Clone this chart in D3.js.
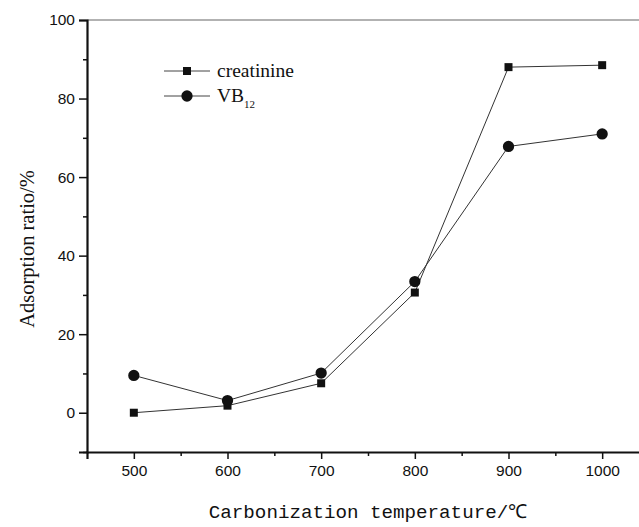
<!DOCTYPE html>
<html>
<head>
<meta charset="utf-8">
<script src="https://cdn.jsdelivr.net/npm/d3@7"></script>
<style>
  body { margin: 0; background: #fff; }
</style>
</head>
<body>
<div id="chart"></div>
<script>
// carbonization temperatures (x) and adsorption ratios (%)
var temps = [500, 600, 700, 800, 900, 1000];
var creatinine = [0, 1.8, 7.5, 30.6, 88.0, 88.5];
var vb12 = [9.5, 3.1, 10.1, 33.4, 67.8, 71.0];
var xTicks = [500, 600, 700, 800, 900, 1000];
var yTicks = [0, 20, 40, 60, 80, 100];

var w = 639, h = 527;
var margin = {top: 20, left: 87, right: -10, bottom: 75};

var svg = d3.select("#chart").append("svg")
  .attr("width", w)
  .attr("height", h);

var x = d3.scaleLinear().domain([450, 1050]).range([margin.left, w - margin.right]);
var y = d3.scaleLinear().domain([-10, 100]).range([h - margin.bottom, margin.top]);

var ink = "#111";

//top frame line
svg.append("line")
  .attr("x1", x(450)).attr("x2", w)
  .attr("y1", y(100)).attr("y2", y(100))
  .attr("stroke", "#666").attr("stroke-width", 1.2);

//bottom axis
svg.append("g")
  .attr("transform", "translate(0," + y(-10) + ")")
  .call(d3.axisBottom(x).tickValues(xTicks).tickSize(7).tickPadding(6).tickFormat(d3.format("d")));

svg.append("g")
  .attr("transform", "translate(0," + y(-10) + ")")
  .call(d3.axisBottom(x).tickValues([550, 650, 750, 850, 950]).tickSize(4).tickFormat(""))
  .select(".domain").remove();

//left axis
svg.append("g")
  .attr("transform", "translate(" + x(450) + ",0)")
  .call(d3.axisLeft(y).tickValues(yTicks).tickSize(8).tickPadding(4));

svg.append("g")
  .attr("transform", "translate(" + x(450) + ",0)")
  .call(d3.axisLeft(y).tickValues([-10, 10, 30, 50, 70, 90]).tickSize(4).tickFormat(""))
  .select(".domain").remove();

svg.selectAll(".domain").attr("stroke", ink).attr("stroke-width", 2.2);
svg.selectAll(".tick line").attr("stroke", ink).attr("stroke-width", 1.5);
svg.selectAll(".tick text")
  .attr("font-family", "Liberation Sans, Arial, sans-serif")
  .attr("font-size", 15.5)
  .attr("fill", ink);

//series lines
var line = d3.line()
  .x(function(d) { return x(d[0]); })
  .y(function(d) { return y(d[1]); });

var series = [
  {name: "creatinine", values: creatinine, symbol: "square"},
  {name: "VB12", values: vb12, symbol: "circle"}
];

function marker(s) {
  return s.symbol == "square" ? d3.symbol(d3.symbolSquare, 64)() : d3.symbol(d3.symbolCircle, 100)();
}

series.forEach(function(s) {
  var pts = temps.map(function(t, i) { return [t, s.values[i]]; });
  svg.append("path")
    .attr("d", line(pts))
    .attr("fill", "none")
    .attr("stroke", "#333")
    .attr("stroke-width", 1);

  svg.append("g").selectAll("path")
    .data(pts)
    .enter()
    .append("path")
    .attr("transform", function(d) { return "translate(" + x(d[0]) + "," + y(d[1]) + ")"; })
    .attr("d", marker(s))
    .attr("fill", ink);
});

//legend
var legend = svg.append("g").attr("transform", "translate(164,71)");
series.forEach(function(s, i) {
  var g = legend.append("g").attr("transform", "translate(0," + (i * 25) + ")");
  g.append("line").attr("x1", 0).attr("x2", 46).attr("y1", 0).attr("y2", 0)
    .attr("stroke", "#444").attr("stroke-width", 1);
  g.append("path")
    .attr("transform", "translate(23,0)")
    .attr("d", marker(s))
    .attr("fill", ink);
  var t = g.append("text")
    .attr("x", 53).attr("y", 6)
    .attr("font-family", "Liberation Serif, Times New Roman, serif")
    .attr("font-size", 19.5)
    .attr("fill", ink);
  if (s.name == "VB12") {
    t.append("tspan").text("VB");
    t.append("tspan").attr("font-size", 11).attr("dy", 6).text("12");
  } else {
    t.text(s.name);
  }
});

//axis titles
svg.append("text")
  .attr("x", 368).attr("y", 518)
  .attr("text-anchor", "middle")
  .attr("font-family", "Liberation Mono, monospace")
  .attr("font-size", 19.2)
  .attr("fill", ink)
  .text("Carbonization temperature/℃");

svg.append("text")
  .attr("transform", "translate(34,249) rotate(-90)")
  .attr("text-anchor", "middle")
  .attr("font-family", "Liberation Serif, Times New Roman, serif")
  .attr("font-size", 20.5)
  .attr("fill", ink)
  .text("Adsorption ratio/%");
</script>
</body>
</html>
